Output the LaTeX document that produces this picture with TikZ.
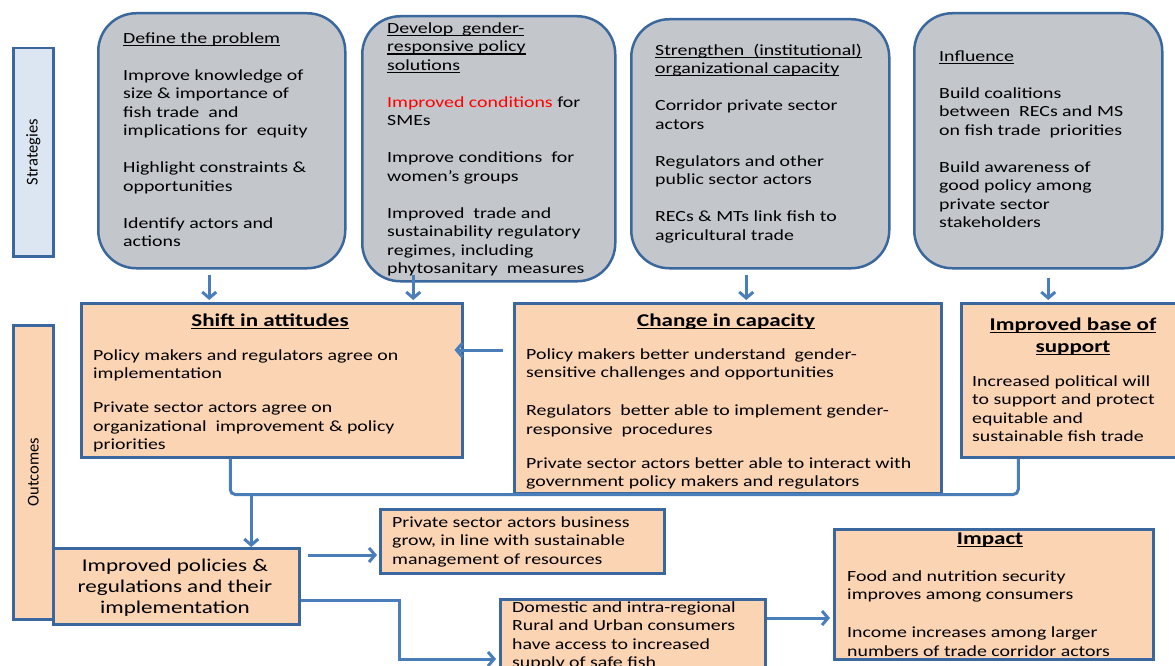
\documentclass[tikz,border=0pt]{standalone}
\usepackage{fontspec}
\setmainfont[FakeStretch=1.28]{Carlito}
\newfontfamily\plainfam{Carlito}
\newcommand{\myul}[1]{\setbox0\hbox{#1}\rlap{\rule[-2.6pt]{\wd0}{1.1pt}}\box0}
\usetikzlibrary{arrows.meta,calc}
\definecolor{bordc}{HTML}{3A689E}
\definecolor{arrc}{HTML}{4A7EBB}
\definecolor{grayc}{HTML}{C3C6CB}
\definecolor{peach}{HTML}{FBD4B4}
\definecolor{lblue}{HTML}{DCE6F2}
\newcommand{\bodyfnt}{\fontsize{15.5}{18.5}\selectfont}
\newcommand{\myttl}{\fontsize{18}{22}\selectfont\bfseries}
\newcommand{\polfnt}{\fontsize{18}{21}\selectfont}
\begin{document}
\begin{tikzpicture}[x=1pt,y=-1pt,
  gbox/.style={draw=bordc, line width=2.5pt, fill=grayc, rounded corners=38pt, anchor=north west, inner sep=0},
  pbox/.style={draw=bordc, line width=2.5pt, fill=peach, anchor=north west, inner sep=0},
  bbox/.style={draw=bordc, line width=2.5pt, fill=lblue, anchor=north west, inner sep=0},
  txt/.style={anchor=north west, inner sep=0, yshift=-3pt, align=left, font=\bodyfnt, execute at begin node={\strut}},
  ttl/.style={anchor=base, inner sep=0, font=\myttl},
  side/.style={rotate=90, inner sep=0, font=\plainfam\fontsize{16.5}{19}\selectfont},
  arr/.style={draw=arrc, line width=3pt, -{Straight Barb[length=6pt,width=14pt]}},
  conn/.style={draw=arrc, line width=3pt}]
\useasboundingbox (0,0) rectangle (1175,666);
\fill[white] (0,0) rectangle (1175,666);
\clip (0,0) rectangle (1175,666);

% side bars
\node[bbox, minimum width=40pt, minimum height=208pt] (strat) at (12,47) {};
\node[side] (stratlbl) at (strat.center) {Strategies};
\node[pbox, minimum width=40pt, minimum height=294pt] (outc) at (12,324) {};
\node[side] (outclbl) at (outc.center) {Outcomes};

% strategy boxes
\node[gbox, minimum width=247pt, minimum height=255pt] (s1) at (97,12) {};
\node[gbox, minimum width=253pt, minimum height=265pt] (s2) at (361,15) {};
\node[gbox, minimum width=258pt, minimum height=249pt] (s3) at (630,18) {};
\node[gbox, minimum width=248pt, minimum height=255pt] (s4) at (913,12) {};

\node[txt] (s1t) at (123,29.5) {\myul{Define the problem}\\[18.5pt]
Improve knowledge of\\
size \& importance of\\
fish trade\ \ and\\
implications for\ \ equity\\[18.5pt]
Highlight constraints \&\\
opportunities\\[18.5pt]
Identify actors and\\
actions};

\node[txt] (s2t) at (387,19.5) {\myul{Develop\ \ gender-}\\
\myul{responsive policy}\\
\myul{solutions}\\[18.5pt]
\textcolor{red}{Improved conditions} for\\
SMEs\\[18.5pt]
Improve conditions\ \ for\\
women’s groups\\[18.5pt]
Improved\ \ trade and\\
sustainability regulatory\\
regimes, including\\
phytosanitary\ \ measures};

\node[txt] (s3t) at (655,40.5) {\myul{Strengthen\ \ (institutional)}\\
\myul{organizational capacity}\\[18.5pt]
Corridor private sector\\
actors\\[18.5pt]
Regulators and other\\
public sector actors\\[18.5pt]
RECs \& MTs link fish to\\
agricultural trade};

\node[txt] (s4t) at (939,47.5) {\myul{Influence}\\[18.5pt]
Build coalitions\\
between\ \ RECs and MS\\
on fish trade\ \ priorities\\[18.5pt]
Build awareness of\\
good policy among\\
private sector\\
stakeholders};

% outcome boxes
\node[pbox, minimum width=381pt, minimum height=154pt] (shift) at (80,302) {};
\node[pbox, minimum width=427pt, minimum height=190pt] (change) at (513,302) {};
\node[pbox, minimum width=225pt, minimum height=154pt] (support) at (960,302) {};
\node[pbox, minimum width=246pt, minimum height=76pt] (policies) at (52,547) {};
\node[pbox, minimum width=284pt, minimum height=64pt] (private) at (379,508) {};
\node[pbox, minimum width=265pt, minimum height=100pt] (domestic) at (499,598) {};
\node[pbox, minimum width=319pt, minimum height=130pt] (impact) at (833,528) {};

\node[ttl] (shiftttl) at (270,326) {\myul{Shift in attitudes}};
\node[txt] (shiftt) at (93,346.5) {Policy makers and regulators agree on\\
implementation\\[15.5pt]
Private sector actors agree on\\
organizational\ \ improvement \& policy\\
priorities};

\node[ttl] (changettl) at (726,326) {\myul{Change in capacity}};
\node[txt] (changet) at (526,345.5) {Policy makers better understand\ \ gender-\\
sensitive challenges and opportunities\\[19.5pt]
Regulators\ \ better able to implement gender-\\
responsive\ \ procedures\\[15.5pt]
Private sector actors better able to interact with\\
government policy makers and regulators};

\node[anchor=north, inner sep=0, align=center, font=\myttl, execute at begin node={\strut}] (supportttl) at (1073,317.6) {\myul{Improved base of}\\ \myul{support}};
\node[txt] (supportt) at (972,372.5) {Increased political will\\
to support and protect\\
equitable and\\
sustainable fish trade};

\node[anchor=north, inner sep=0, align=center, font=\polfnt, execute at begin node={\strut}] (policiest) at (175,558.8) {Improved policies \&\\
regulations and their\\
implementation};

\node[txt] (privatet) at (392,513.5) {Private sector actors business\\
grow, in line with sustainable\\
management of resources};

\node[txt] (domestict) at (512,598.5) {Domestic and intra-regional\\
Rural and Urban consumers\\
have access to increased\\
supply of safe fish};

\node[ttl] (impactttl) at (990,544) {\myul{Impact}};
\node[txt] (impactt) at (847,567.5) {Food and nutrition security\\
improves among consumers\\[19.5pt]
Income increases among larger\\
numbers of trade corridor actors};

% connectors
\draw[arr, shorten <=5pt, shorten >=2pt] ([xshift=-12.5pt]s1.south) -- ([xshift=-12.5pt]s1.south |- shift.north);
\draw[arr, shorten <=-8pt, shorten >=2pt] ([xshift=-75.5pt]s2.south) -- ([xshift=-75.5pt]s2.south |- shift.north);
\draw[arr, shorten <=5pt, shorten >=2pt] ([xshift=-14pt]s3.south) -- ([xshift=-14pt]s3.south |- change.north);
\draw[arr, shorten <=8pt, shorten >=2pt] ([xshift=10pt]s4.south) -- ([xshift=10pt]s4.south |- support.north);

\draw[arr] ($(change.north west)+(-10,48)$) -- ($(shift.north east)+(-9,48)$);

\draw[conn, rounded corners=5pt] ([xshift=-41.5pt]shift.south) |- (change.south) -| ([xshift=-55.5pt]support.south);
\draw[arr] ([xshift=75pt]policies.north |- change.south) -- ([xshift=75pt]policies.north);

\draw[arr] ($(policies.north east)+(7,8)$) -- ($(private.north west)+(-2,47)$);
\draw[arr] ($(policies.north east)+(0,53)$) -| ($(domestic.north west)+(-100,61)$) -- ($(domestic.north west)+(-3,61)$);
\draw[arr] ($(domestic.north east)+(0,20)$) -- ($(impact.north west)+(-3,90)$);
\end{tikzpicture}
\end{document}
